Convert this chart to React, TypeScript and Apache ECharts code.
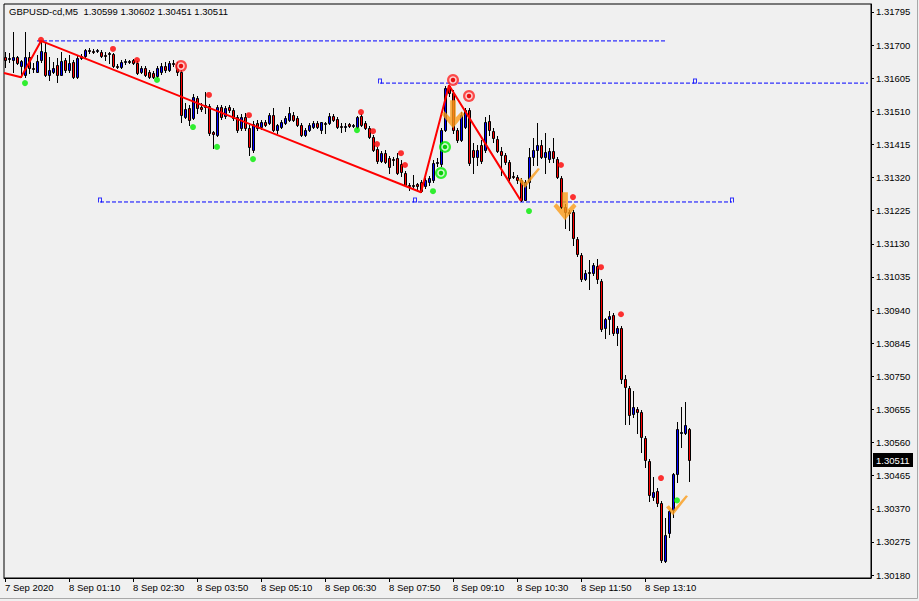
import React, { useEffect, useRef } from "react";
import * as echarts from "echarts";

const header = "GBPUSD-cd,M5  1.30599 1.30602 1.30451 1.30511";

const opens = [
  1.31666, 1.3166, 1.31657, 1.31666, 1.3164, 1.31614, 1.31666, 1.31634, 1.31623, 1.31657,
  1.3168, 1.31614, 1.31623, 1.31643, 1.31614, 1.31657, 1.31628, 1.31651, 1.31608, 1.31663,
  1.31669, 1.31686, 1.31683, 1.31683, 1.3168, 1.31672, 1.31677, 1.31674, 1.3164, 1.31637,
  1.31651, 1.31654, 1.31657, 1.31649, 1.31623, 1.31634, 1.31623, 1.3162, 1.31611, 1.31623,
  1.3164, 1.31628, 1.31649, 1.31646, 1.31623, 1.31494, 1.31519, 1.31491, 1.31548, 1.31522,
  1.31528, 1.31525, 1.31451, 1.31442, 1.31522, 1.31496, 1.31522, 1.31514, 1.31494, 1.31462,
  1.31494, 1.31462, 1.31399, 1.31476, 1.31465, 1.31479, 1.31476, 1.31499, 1.31456, 1.31465,
  1.31476, 1.31485, 1.31499, 1.31491, 1.31471, 1.31442, 1.31456, 1.31465, 1.31476, 1.31456,
  1.31476, 1.31476, 1.31496, 1.31488, 1.31468, 1.31468, 1.31474, 1.31468, 1.31465, 1.31496,
  1.31476, 1.31462, 1.31436, 1.31402, 1.31367, 1.3139, 1.31376, 1.31373, 1.31376, 1.31359,
  1.31333, 1.31298, 1.31298, 1.31301, 1.31307, 1.31296, 1.31307, 1.31313, 1.31362, 1.31359,
  1.31456, 1.31583, 1.31562, 1.31456, 1.31428, 1.31465, 1.31514, 1.31399, 1.31379, 1.31413,
  1.31399, 1.31482, 1.31453, 1.3143, 1.31396, 1.31385, 1.31364, 1.31324, 1.31321, 1.31313,
  1.31255, 1.31307, 1.31379, 1.31399, 1.31413, 1.31379, 1.31373, 1.31396, 1.31373, 1.31319,
  1.31235, 1.31218, 1.31221, 1.31143, 1.31098, 1.31029, 1.31049, 1.31046, 1.31066, 1.31023,
  1.30888, 1.30914, 1.30925, 1.30874, 1.30888, 1.30742, 1.30716, 1.30641, 1.30656, 1.30647,
  1.30572, 1.30506, 1.30403, 1.3042, 1.30386, 1.30219, 1.303, 1.30366, 1.30469, 1.30587,
  1.30587, 1.30599,
];

const highs = [
  1.3168, 1.31677, 1.31738, 1.31669, 1.31657, 1.31738, 1.3168, 1.31649, 1.31672, 1.31712,
  1.31709, 1.31666, 1.31651, 1.31663, 1.3168, 1.31663, 1.31672, 1.31657, 1.31669, 1.31674,
  1.31689, 1.31692, 1.31689, 1.31689, 1.31686, 1.3168, 1.3168, 1.31677, 1.31646, 1.31657,
  1.3166, 1.31657, 1.3166, 1.31654, 1.3164, 1.3164, 1.31628, 1.31626, 1.3164, 1.31649,
  1.31651, 1.31654, 1.31657, 1.31651, 1.31628, 1.31534, 1.31528, 1.3156, 1.31554, 1.31534,
  1.31565, 1.31531, 1.31453, 1.31528, 1.31528, 1.31525, 1.31528, 1.31519, 1.31499, 1.31502,
  1.31505, 1.31471, 1.31482, 1.31485, 1.31485, 1.31485, 1.31505, 1.31519, 1.31474, 1.31485,
  1.31496, 1.31522, 1.31508, 1.31496, 1.31476, 1.31462, 1.31476, 1.31482, 1.31482, 1.31479,
  1.31479, 1.31505, 1.31502, 1.31494, 1.31476, 1.31476, 1.31476, 1.31474, 1.31496, 1.31502,
  1.31482, 1.31468, 1.31442, 1.31408, 1.31396, 1.31399, 1.31382, 1.31379, 1.3139, 1.3137,
  1.31339, 1.31304, 1.31327, 1.31304, 1.31313, 1.31319, 1.31324, 1.3137, 1.31376, 1.31462,
  1.31583, 1.31585, 1.31571, 1.31462, 1.31508, 1.31519, 1.31519, 1.31419, 1.31413, 1.31428,
  1.31494, 1.31499, 1.31462, 1.31439, 1.31408, 1.3139, 1.3137, 1.31336, 1.31327, 1.31319,
  1.31313, 1.31405, 1.31433, 1.31476, 1.31428, 1.31448, 1.31405, 1.31433, 1.31379, 1.31324,
  1.31244, 1.31227, 1.31227, 1.31149, 1.31103, 1.31055, 1.31083, 1.31075, 1.31086, 1.31029,
  1.30917, 1.30937, 1.30931, 1.30894, 1.30894, 1.30753, 1.30722, 1.30707, 1.30661, 1.30653,
  1.30578, 1.30512, 1.3046, 1.30429, 1.30392, 1.30343, 1.30366, 1.30472, 1.30618, 1.30661,
  1.30676, 1.30602,
];

const lows = [
  1.31637, 1.31651, 1.31623, 1.31646, 1.31608, 1.31608, 1.3162, 1.31623, 1.31623, 1.31651,
  1.31611, 1.316, 1.3162, 1.31594, 1.31614, 1.31623, 1.31623, 1.31606, 1.31606, 1.3166,
  1.31666, 1.31677, 1.31677, 1.3168, 1.31666, 1.31657, 1.31649, 1.31637, 1.31634, 1.31634,
  1.31646, 1.31649, 1.31646, 1.31617, 1.3162, 1.31611, 1.31606, 1.31606, 1.31608, 1.31617,
  1.31623, 1.31626, 1.3164, 1.31614, 1.31479, 1.31491, 1.31471, 1.31488, 1.31505, 1.31511,
  1.31505, 1.31442, 1.31405, 1.31439, 1.31488, 1.31491, 1.31508, 1.31485, 1.31451, 1.31456,
  1.31456, 1.31385, 1.31393, 1.31456, 1.31459, 1.31468, 1.31474, 1.31453, 1.31448, 1.31462,
  1.31474, 1.31482, 1.31482, 1.31468, 1.31439, 1.31439, 1.31453, 1.31462, 1.31462, 1.31448,
  1.31448, 1.31474, 1.31482, 1.31462, 1.31451, 1.31453, 1.31465, 1.31465, 1.31462, 1.31468,
  1.31459, 1.31433, 1.31396, 1.31362, 1.31364, 1.31362, 1.31333, 1.31356, 1.3133, 1.31324,
  1.31296, 1.31284, 1.3129, 1.31284, 1.31278, 1.3129, 1.31298, 1.31307, 1.31353, 1.31353,
  1.31453, 1.31554, 1.31448, 1.31422, 1.31425, 1.31462, 1.31356, 1.31333, 1.31356, 1.31362,
  1.31393, 1.31442, 1.31422, 1.31393, 1.31327, 1.31359, 1.31313, 1.31319, 1.31304, 1.31253,
  1.31255, 1.3129, 1.31356, 1.31356, 1.31376, 1.31333, 1.31364, 1.31364, 1.31319, 1.31232,
  1.31175, 1.31169, 1.31126, 1.31095, 1.31023, 1.31026, 1.31, 1.3104, 1.31017, 1.30879,
  1.30859, 1.30871, 1.30868, 1.30839, 1.3073, 1.30613, 1.30613, 1.30633, 1.30587, 1.30532,
  1.30489, 1.30392, 1.30394, 1.30377, 1.30216, 1.30216, 1.30288, 1.30346, 1.30446, 1.30547,
  1.30585, 1.30451,
];

const closes = [
  1.31657, 1.31663, 1.31666, 1.31649, 1.31654, 1.31666, 1.31634, 1.31631, 1.31654, 1.31683,
  1.31614, 1.31628, 1.31634, 1.31614, 1.31654, 1.31628, 1.31649, 1.31608, 1.31663, 1.31669,
  1.31686, 1.31683, 1.31682, 1.31686, 1.31669, 1.31671, 1.31674, 1.3164, 1.31637, 1.31651,
  1.31654, 1.31651, 1.31649, 1.3162, 1.31634, 1.31614, 1.31608, 1.31608, 1.31634, 1.3164,
  1.31628, 1.31649, 1.31646, 1.31623, 1.31499, 1.31517, 1.31485, 1.31551, 1.31519, 1.31517,
  1.31522, 1.31448, 1.31445, 1.31522, 1.31494, 1.31519, 1.31514, 1.31491, 1.31456, 1.31494,
  1.31462, 1.31408, 1.31474, 1.31462, 1.31479, 1.31471, 1.31499, 1.31456, 1.31471, 1.31479,
  1.31491, 1.31505, 1.31485, 1.31471, 1.31442, 1.31456, 1.31471, 1.31476, 1.31465, 1.31478,
  1.31475, 1.31496, 1.31485, 1.31465, 1.31467, 1.31469, 1.31468, 1.31471, 1.31494, 1.31471,
  1.31462, 1.31436, 1.31399, 1.31367, 1.3139, 1.31364, 1.3135, 1.3137, 1.31333, 1.31336,
  1.31298, 1.31296, 1.31297, 1.31296, 1.31281, 1.31313, 1.31319, 1.31362, 1.31364, 1.31456,
  1.31577, 1.31562, 1.31456, 1.31428, 1.31499, 1.31514, 1.31362, 1.31379, 1.31399, 1.31367,
  1.31479, 1.31456, 1.31433, 1.31396, 1.31385, 1.31364, 1.31319, 1.31323, 1.31313, 1.31255,
  1.31307, 1.31379, 1.31399, 1.31413, 1.31379, 1.31393, 1.31396, 1.31376, 1.31321, 1.31235,
  1.31221, 1.3122, 1.31146, 1.311, 1.31029, 1.31046, 1.31048, 1.31069, 1.31029, 1.30885,
  1.30914, 1.30922, 1.30874, 1.30888, 1.30742, 1.30719, 1.30638, 1.30661, 1.30647, 1.30575,
  1.30509, 1.30409, 1.30417, 1.30386, 1.30222, 1.30294, 1.30365, 1.30471, 1.30598, 1.3059,
  1.3061, 1.30511,
];

const timeLabels = [
  "7 Sep 2020", "8 Sep 01:10", "8 Sep 02:30", "8 Sep 03:50", "8 Sep 05:10", "8 Sep 06:30",
  "8 Sep 07:50", "8 Sep 09:10", "8 Sep 10:30", "8 Sep 11:50", "8 Sep 13:10",
];
const timeLabelBars = [0, 16, 32, 48, 64, 80, 96, 112, 128, 144, 160];

const priceTicks = [
  1.3018, 1.30275, 1.3037, 1.30465, 1.3056, 1.30655, 1.3075, 1.30845, 1.3094, 1.31035,
  1.3113, 1.31225, 1.3132, 1.31415, 1.3151, 1.31605, 1.317, 1.31795,
];
const priceMin = 1.301714;
const priceMax = 1.318179;
const barMin = -0.25;
const barMax = 216.5;
const lastPrice = 1.30511;

const zigzag = [
  [-0.25, 1.3162], [4, 1.31608], [9, 1.31712], [104, 1.31278], [111, 1.31585], [129, 1.31253],
];

const fractalUp = [
  [9, 1.31715], [27, 1.31689], [33, 1.31657], [51, 1.31557], [61, 1.31499], [89, 1.31508],
  [92, 1.31453], [93, 1.31416], [99, 1.3139], [100, 1.31356], [139, 1.31356], [142, 1.31264],
  [149, 1.31063], [154, 1.30928], [164, 1.30458],
];
const fractalDown = [
  [5, 1.31591], [38, 1.316], [47, 1.31465], [53, 1.31408], [62, 1.31373], [88, 1.31456],
  [107, 1.31281], [131, 1.31224], [168, 1.30394],
];
const redTargets = [[44, 1.3164], [112, 1.316], [116, 1.31554]];
const greenTargets = [[110, 1.31408], [109, 1.31333]];
const sellArrows = [[112, 1.31502], [140, 1.31238]];
const checkMarks = [[131, 1.31319], [168, 1.3038]];

const levelStart = [8, 93.75, 23.75];
const levelEnd = [165, 215.75, 181.75];
const levelPrice = [1.31712, 1.31591, 1.3125];
const levelMarks = [
  [93.75, 1.31591], [172.5, 1.31591], [23.75, 1.3125], [102.5, 1.3125], [181.75, 1.3125],
];

const FONT = "'Liberation Sans', Arial, sans-serif";
const ORANGE = "#fb9c19";

export default function App() {
  const ref = useRef<HTMLDivElement>(null);

  useEffect(() => {
    document.body.style.margin = "0";
    document.body.style.background = "#f0f0f0";
    const chart = echarts.init(ref.current!, null, { renderer: "svg" });

    const candles = opens.map((o, i) => [i, o, highs[i], lows[i], closes[i]]);

    const levelSeries = levelPrice.map((p, k) => ({
      type: "line",
      data: [[levelStart[k], p], [levelEnd[k], p]],
      symbol: "none",
      silent: true,
      z: 3,
      lineStyle: { color: "#0000ff", width: 1, type: [4, 2] },
    }));

    const option: any = {
      animation: false,
      backgroundColor: "#f0f0f0",
      title: {
        text: header,
        left: 9,
        top: 6,
        padding: 0,
        textStyle: { fontSize: 9.5, fontWeight: "normal", color: "#000", fontFamily: FONT },
      },
      grid: {
        left: 4,
        right: 48,
        top: 4,
        bottom: 23,
        show: true,
        borderColor: "#000",
        borderWidth: 1,
        backgroundColor: "transparent",
      },
      xAxis: {
        type: "value",
        min: barMin,
        max: barMax,
        axisLine: { show: true, onZero: false, lineStyle: { color: "#000", width: 1 } },
        axisTick: {
          show: true,
          length: 4,
          customValues: timeLabelBars,
          lineStyle: { color: "#000" },
        },
        axisLabel: {
          customValues: timeLabelBars,
          formatter: (v: number) => timeLabels[timeLabelBars.indexOf(Math.round(v))] || "",
          align: "left",
          margin: 4,
          fontSize: 9.5,
          color: "#000",
          fontFamily: FONT,
        },
        splitLine: { show: false },
      },
      yAxis: {
        type: "value",
        position: "right",
        min: priceMin,
        max: priceMax,
        scale: true,
        axisLine: { show: true, onZero: false, lineStyle: { color: "#000", width: 1 } },
        axisTick: {
          show: true,
          length: 3,
          customValues: priceTicks,
          lineStyle: { color: "#000" },
        },
        axisLabel: {
          customValues: priceTicks,
          formatter: (v: number) => v.toFixed(5),
          margin: 5,
          fontSize: 9.5,
          color: "#000",
          fontFamily: FONT,
        },
        splitLine: { show: false },
      },
      series: [
        ...levelSeries,
        {
          type: "scatter",
          data: levelMarks,
          symbol: "path://M0,5 L0,0 L4,0 L4,5 L3,5 L3,1 L1,1 L1,5 Z",
          symbolSize: [4, 5],
          symbolOffset: [0, -2],
          itemStyle: { color: "#0000ff" },
          silent: true,
          z: 3,
        },
        {
          type: "custom",
          data: candles,
          z: 4,
          encode: { x: 0, y: [1, 2, 3, 4] },
          renderItem: (params: any, api: any) => {
            const i = api.value(0);
            const o = api.value(1);
            const h = api.value(2);
            const l = api.value(3);
            const c = api.value(4);
            const pO = api.coord([i, o]);
            const pC = api.coord([i, c]);
            const pH = api.coord([i, h]);
            const pL = api.coord([i, l]);
            const xc = Math.round(pO[0]);
            const top = Math.round(Math.min(pO[1], pC[1]));
            const bot = Math.round(Math.max(pO[1], pC[1]));
            const bull = c > o;
            const hh = Math.max(bot - top, 1);
            return {
              type: "group",
              children: [
                {
                  type: "line",
                  shape: { x1: xc + 0.5, y1: Math.round(pH[1]), x2: xc + 0.5, y2: Math.round(pL[1]) + 1 },
                  style: { stroke: "#000", lineWidth: 1 },
                },
                {
                  type: "rect",
                  shape: { x: xc - 0.5, y: top + 0.5, width: 2, height: hh },
                  style: { fill: bull ? "#0000ff" : "#ff0000", stroke: "#000", lineWidth: 1 },
                },
              ],
            };
          },
        },
        {
          type: "line",
          data: zigzag,
          symbol: "none",
          silent: true,
          z: 5,
          lineStyle: { color: "#ff0000", width: 2 },
        },
        {
          type: "scatter",
          data: fractalUp,
          symbol: "circle",
          symbolSize: 6,
          itemStyle: { color: "#ff0000" },
          z: 6,
        },
        {
          type: "scatter",
          data: fractalDown,
          symbol: "circle",
          symbolSize: 6,
          itemStyle: { color: "#00ee00" },
          z: 6,
        },
        {
          type: "scatter",
          data: redTargets,
          symbol: "circle",
          symbolSize: 12,
          itemStyle: { color: "#ff2020" },
          z: 7,
        },
        {
          type: "scatter",
          data: redTargets,
          symbol: "circle",
          symbolSize: 6,
          itemStyle: { color: "#e00000", borderColor: "#ffffff", borderWidth: 1.5 },
          z: 8,
        },
        {
          type: "scatter",
          data: greenTargets,
          symbol: "circle",
          symbolSize: 12,
          itemStyle: { color: "#00ee00" },
          z: 7,
        },
        {
          type: "scatter",
          data: greenTargets,
          symbol: "circle",
          symbolSize: 6,
          itemStyle: { color: "#00c000", borderColor: "#ffffff", borderWidth: 1.5 },
          z: 8,
        },
        {
          type: "scatter",
          data: sellArrows,
          symbol: "path://M9,0 L15,0 L15,17 L21,11 L24,14 L12,28 L0,14 L3,11 L9,17 Z",
          symbolSize: [23, 28],
          itemStyle: { color: ORANGE },
          z: 9,
        },
        {
          type: "scatter",
          data: checkMarks,
          symbol: "path://M0,12 L3,10 L7,15 L20,0 L22,1 L7,20 Z",
          symbolSize: [22, 20],
          itemStyle: { color: ORANGE },
          z: 9,
        },
      ],
    };

    chart.setOption(option);

    // current-price tag, positioned through the chart's own axes
    const yPix = Math.round(chart.convertToPixel({ yAxisIndex: 0 }, lastPrice) as number);
    const xPix = Math.round(chart.convertToPixel({ xAxisIndex: 0 }, barMax) as number);
    chart.setOption({
      graphic: [
        {
          type: "polyline",
          silent: true,
          shape: { points: [[917.5, 0], [917.5, 598.5], [0, 598.5]] },
          style: { stroke: "#a8a8a8", lineWidth: 1, fill: "none" },
        },
        {
          type: "rect",
          silent: true,
          z: 20,
          shape: { x: xPix + 2, y: yPix - 7, width: 40, height: 14 },
          style: { fill: "#000" },
        },
        {
          type: "text",
          silent: true,
          z: 21,
          x: xPix + 5,
          y: yPix,
          style: {
            text: lastPrice.toFixed(5),
            fill: "#fff",
            font: `9.5px ${FONT}`,
            verticalAlign: "middle",
            align: "left",
          },
        },
      ],
    });

    return () => chart.dispose();
  }, []);

  return <div ref={ref} style={{ width: 919, height: 601 }} />;
}
